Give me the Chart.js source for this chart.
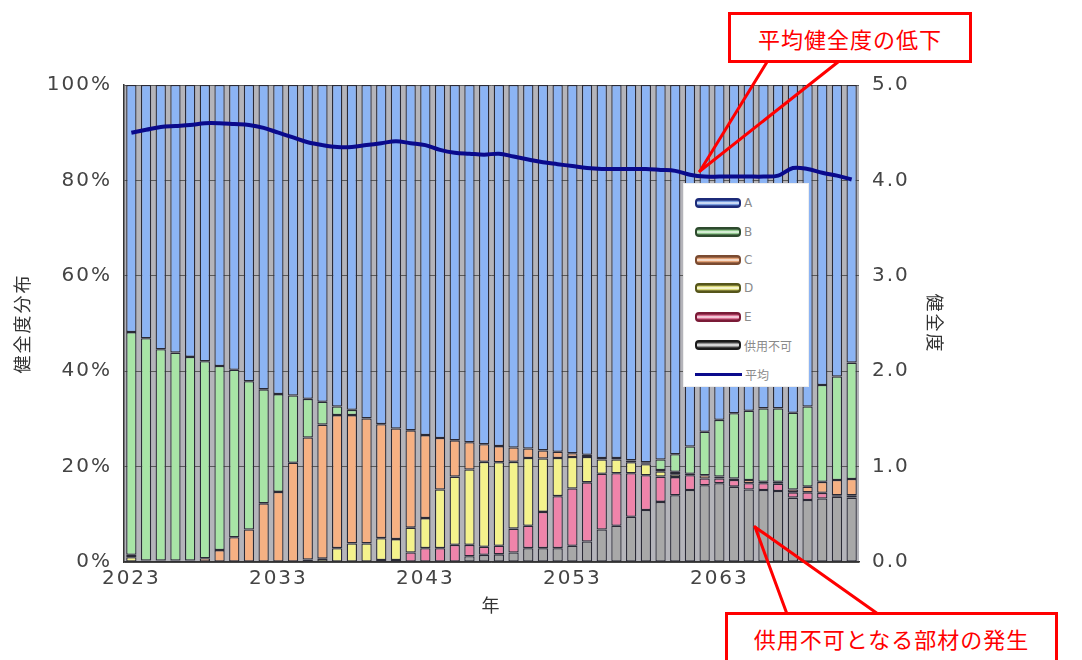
<!DOCTYPE html>
<html><head><meta charset="utf-8">
<script src="https://cdn.jsdelivr.net/npm/chart.js@4.4.1/dist/chart.umd.min.js"></script>
<style>
html,body{margin:0;padding:0;background:#fff;}
#wrap{position:relative;width:1082px;height:660px;overflow:hidden;background:#fff;}
#c{position:absolute;left:0;top:0;}
#legend{position:absolute;left:683px;top:183px;width:126px;height:204px;background:#fff;box-sizing:border-box;border:1px solid #eeeeee;}
.li{position:absolute;left:11px;height:14px;display:flex;align-items:center;font:12px "DejaVu Sans","Noto Sans CJK JP",sans-serif;color:#8a8a8a;white-space:nowrap;}
.sw{width:42px;height:6px;border:2px solid;border-radius:4px;margin-right:3px;}
.ln{width:47px;height:3px;margin-right:3px;}
.note{position:absolute;background:#fff;border:3px solid #f00;color:#f00;font:22px "Noto Sans CJK JP",sans-serif;display:flex;align-items:center;justify-content:center;box-sizing:border-box;letter-spacing:1px;}
svg{position:absolute;left:0;top:0;}
</style></head>
<body>
<div id="wrap">
<canvas id="c" width="1082" height="660"></canvas>
<div id="legend"></div>
<svg width="1082" height="660">
<g stroke="#f00" stroke-width="3" fill="none" stroke-linecap="round">
<line x1="700" y1="171" x2="767" y2="62"/>
<line x1="700" y1="171" x2="838" y2="62"/>
<line x1="755" y1="527" x2="787" y2="614"/>
<line x1="755" y1="527" x2="878" y2="614"/>
</g>
</svg>
<div class="note" style="left:728px;top:12px;width:244px;height:51px;">平均健全度の低下</div>
<div class="note" style="left:725px;top:612px;width:333px;height:52px;">供用不可となる部材の発生</div>
</div>
<script>
const years = ['2023','2024','2025','2026','2027','2028','2029','2030','2031','2032',
'2033','2034','2035','2036','2037','2038','2039','2040','2041','2042',
'2043','2044','2045','2046','2047','2048','2049','2050','2051','2052',
'2053','2054','2055','2056','2057','2058','2059','2060','2061','2062',
'2063','2064','2065','2066','2067','2068','2069','2070','2071','2072'];
const xTickYears = ['2023','2033','2043','2053','2063'];

const seriesNames = ['A','B','C','D','E','供用不可','平均'];

const valuesA = [51.8,53.1,55.4,56.1,57.0,57.9,58.9,59.7,62.1,63.8,
64.8,65.1,65.8,66.4,67.4,68.1,69.9,71.1,72.0,72.4,
73.4,74.0,74.5,74.9,75.3,75.7,76.0,76.2,76.6,76.9,
77.2,77.5,78.2,78.2,78.7,79.1,78.5,77.4,75.8,72.7,
70.2,68.8,68.3,67.8,67.8,68.7,67.4,62.9,61.1,58.2];
const valuesB = [46.7,46.6,44.3,43.6,42.7,41.3,38.6,35.1,31.1,23.9,
20.5,14.1,8.1,4.8,1.8,1.1,0,0,0,0,
0,0,0,0,0,0,0,0,0,0,
0,0,0,0,0,0.2,2.2,3.7,5.7,9.1,
11.9,13.7,14.5,15.4,15.4,16.1,16.8,20.3,21.7,24.4];
const valuesC = [0.5,0.3,0.3,0.3,0.3,0.8,2.5,5.2,6.8,12.3,
14.7,20.8,25.6,28.1,27.9,26.9,26.2,23.9,23.2,20.4,
17.4,10.8,7.6,5.7,3.7,3.4,3.0,2.0,1.7,1.3,
0.8,0.5,0.3,0.3,0.4,0.2,0.3,0.5,0.3,0.7,
0.4,0.3,0.7,0.3,0.4,0.6,1.2,2.3,3.2,3.4];
const valuesD = [1.0,0,0,0,0,0,0,0,0,0,
0,0,0.5,0.7,2.9,3.9,3.9,4.6,4.4,5.2,
6.3,12.3,14.3,15.8,17.8,17.5,14.0,14.2,11.2,8.0,
6.6,5.3,3.0,2.9,2.3,2.3,1.1,0.6,0,0,
0,0,0,0,0,0,0,0,0,0];
const valuesE = [0,0,0,0,0,0,0,0,0,0,
0,0,0,0,0,0,0,0,0,2.0,
2.9,2.9,3.6,2.4,1.7,1.8,5.0,4.7,7.6,10.9,
12.0,12.4,11.7,11.0,9.1,7.3,5.3,3.8,3.1,1.4,
1.0,1.4,1.3,1.4,1.5,1.1,1.6,1.2,0.3,0.5];
const valuesNG = [0,0,0,0,0,0,0,0,0,0,
0,0,0,0,0,0,0,0.4,0.4,0,
0,0,0,1.2,1.5,1.6,2.0,2.9,2.9,2.9,
3.4,4.3,6.8,7.6,9.5,10.9,12.6,14.0,15.1,16.1,
16.5,15.8,15.2,15.1,14.9,13.5,13.0,13.3,13.7,13.5];
const valuesAvg = [4.50,4.53,4.56,4.57,4.58,4.60,4.60,4.59,4.58,4.55,
4.50,4.45,4.40,4.37,4.35,4.35,4.37,4.39,4.41,4.39,
4.37,4.32,4.29,4.28,4.27,4.28,4.25,4.22,4.19,4.17,
4.15,4.13,4.12,4.12,4.12,4.12,4.11,4.10,4.06,4.04,
4.04,4.04,4.04,4.04,4.05,4.13,4.12,4.08,4.05,4.01];

const fills = {A:'#8cb4f4',B:'#a8e4a6',C:'#f6b183',D:'#f4f28c',E:'#ef84aa','供用不可':'#a8a8a8'};
const edges = {A:'#1c2a78',B:'#2d4a2d',C:'#7a4a30',D:'#55551a',E:'#7a1a36','供用不可':'#1a1a1a'};
const barBorder = '#2a2a36';
const lineColor = '#0a0a8c';

const stackOrder = [['供用不可',valuesNG],['E',valuesE],['D',valuesD],['C',valuesC],['B',valuesB],['A',valuesA]];
const datasets = stackOrder.map(([n,v]) => ({
  type:'bar', label:n, data:v, backgroundColor:fills[n], borderColor:barBorder,
  borderWidth:1.3, borderSkipped:false, stack:'s', yAxisID:'y', order:1,
  barPercentage:0.7, categoryPercentage:1.0
}));
datasets.push({type:'line', label:'平均', data:valuesAvg, yAxisID:'y2', borderColor:lineColor,
  borderWidth:4, pointRadius:0, tension:0.35, order:0, fill:false});

const tickFont = {family:'"DejaVu Sans","Noto Sans CJK JP",sans-serif', size:20};
const titleFont = {family:'"Noto Sans CJK JP",sans-serif', size:18};

const bgPlugin = {
  id:'bg',
  beforeDraw(chart){
    const {ctx, chartArea:a} = chart;
    ctx.save(); ctx.fillStyle='#b4b4ba'; ctx.fillRect(a.left,a.top,a.right-a.left,a.bottom-a.top); ctx.restore();
    ctx.letterSpacing='2px';
  },
  beforeDatasetsDraw(chart){ chart.ctx.letterSpacing='0px'; }
};

new Chart(document.getElementById('c'), {
  data:{labels:years, datasets},
  options:{
    responsive:false, animation:false, maintainAspectRatio:false,
    layout:{padding:{top:85,left:0,right:0,bottom:0}},
    plugins:{legend:{display:false}, tooltip:{enabled:false}},
    scales:{
      x:{type:'category', stacked:true, offset:true,
        grid:{display:false, drawTicks:false},
        border:{display:true,color:'#333',width:1.5},
        ticks:{autoSkip:false, maxRotation:0, padding:5, color:'#444', font:tickFont,
          callback:(v,i)=> xTickYears.includes(years[i]) ? years[i] : ''},
        title:{display:true,text:'年',color:'#333',font:titleFont,padding:{top:0,bottom:44}},
        afterFit:s=>{s.height=98;}
      },
      y:{position:'left', stacked:true, min:0, max:100,
        grid:{color:'#5a5a5a', lineWidth:1, drawTicks:false},
        border:{display:true,color:'#333',width:1.5},
        ticks:{stepSize:20, padding:12, color:'#444', font:tickFont, callback:v=>v+'%'},
        title:{display:true,text:'健全度分布',color:'#333',font:titleFont,padding:{top:11,bottom:0}},
        afterFit:s=>{s.width=124;}
      },
      y2:{position:'right', min:0, max:5,
        grid:{drawOnChartArea:false, drawTicks:false},
        border:{display:false},
        ticks:{stepSize:1, padding:13, color:'#444', font:tickFont, callback:v=>v.toFixed(1)},
        title:{display:true,text:'健全度',color:'#333',font:titleFont,padding:{top:136,bottom:0}},
        afterFit:s=>{s.width=223;}
      }
    }
  },
  plugins:[bgPlugin]
});

// HTML legend
const lg = document.getElementById('legend');
const legendTops = [12,41,69,97,126,154,183];
seriesNames.forEach((n,i)=>{
  const d = document.createElement('div'); d.className='li'; d.style.top=legendTops[i]+'px';
  const s = document.createElement('span');
  if(n==='平均'){ s.className='ln'; s.style.background=lineColor; }
  else {
    s.className='sw'; s.style.borderColor=edges[n];
    s.style.background='linear-gradient('+edges[n]+' 0%,'+fills[n]+' 30%,#f4f4f4 50%,'+fills[n]+' 70%,'+edges[n]+' 100%)';
  }
  d.appendChild(s); d.appendChild(document.createTextNode(n)); lg.appendChild(d);
});
</script>
</body></html>
